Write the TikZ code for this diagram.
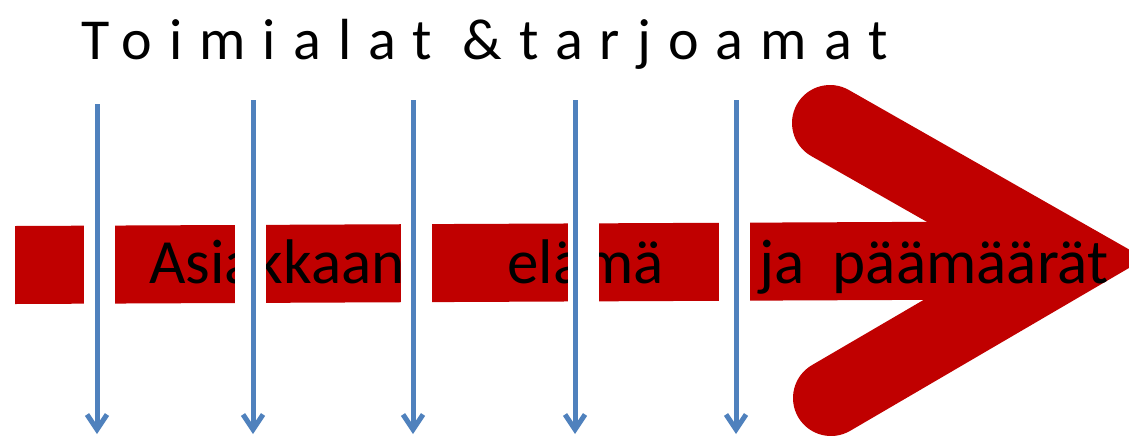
\documentclass[tikz,border=0pt]{standalone}
\usepackage{fontspec}
\setmainfont{Carlito}
\newfontfamily\titlefont[LetterSpace=29.5]{Carlito}
\usetikzlibrary{arrows.meta}
\definecolor{barred}{HTML}{C00000}
\definecolor{lineblue}{HTML}{4F81BD}
\tikzset{
  titletext/.style={inner sep=0pt, anchor=base west, font=\titlefont\fontsize{58}{62}\selectfont, text=black},
  bartext/.style={inner sep=0pt, anchor=base west, font=\fontsize{63}{70}\selectfont, text=black},
  gapbox/.style={fill=white, draw=none},
  downarrow/.style={draw=lineblue, line width=5pt, -{Straight Barb[length=15pt,width=20pt]}},
  chevron/.style={draw=barred, line width=76pt, line cap=round, line join=miter}
}
\begin{document}
\begin{tikzpicture}[x=1pt,y=-1pt]
\useasboundingbox (0,0) rectangle (1129,437);
\clip (0,0) rectangle (1129,437);
% title
\node[titletext] (title) at (81,59) {Toimialat \&tarjoamat};
% red bar
\fill[barred] (15,226) -- (1000,221.5) -- (1000,299.5) -- (15,304) -- cycle;
% chevron head
\coordinate (cu) at (830,123);
\coordinate (ct) at (1069,259);
\coordinate (cl) at (831,398);
\draw[chevron] (cu) -- (ct) -- (cl);
% bar text
\node[bartext] (t1) at (149,283) {Asiakkaan};
\node[bartext] (t2) at (507,283) {elämä};
\node[bartext] (t3) at (759,283) {ja\ \ päämäärät};
% white gaps
\fill[gapbox] (84,205) rectangle (115,320);
\fill[gapbox] (235,205) rectangle (266,320);
\fill[gapbox] (401,205) rectangle (432,320);
\fill[gapbox] (568,205) rectangle (599,320);
\fill[gapbox] (719,205) rectangle (750,320);
% blue arrows
\coordinate (a1s) at (97,104);  \coordinate (a1e) at (97,434);
\coordinate (a2s) at (253,100); \coordinate (a2e) at (253,434);
\coordinate (a3s) at (413,100); \coordinate (a3e) at (413,434);
\coordinate (a4s) at (575,100); \coordinate (a4e) at (575,434);
\coordinate (a5s) at (736,100); \coordinate (a5e) at (736,434);
\draw[downarrow] (a1s) -- (a1e);
\draw[downarrow] (a2s) -- (a2e);
\draw[downarrow] (a3s) -- (a3e);
\draw[downarrow] (a4s) -- (a4e);
\draw[downarrow] (a5s) -- (a5e);
\end{tikzpicture}
\end{document}
